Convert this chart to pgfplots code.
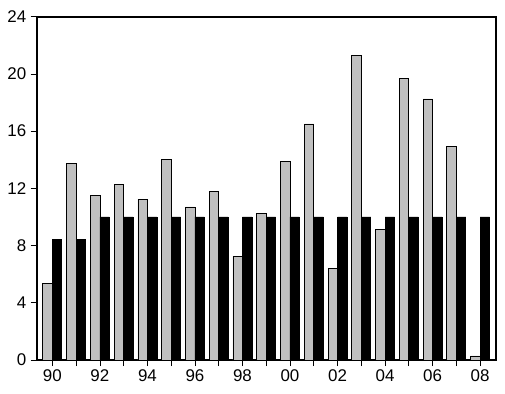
\documentclass[border=0pt]{standalone}
\usepackage{pgfplots}
\pgfplotsset{compat=1.18}
\usepackage{fontspec}
\setmainfont{Liberation Sans}
\definecolor{bargray}{RGB}{192,192,192}
\begin{document}
\begin{tikzpicture}
\begin{axis}[
  name=ax,
  scale only axis,
  width=459.3bp, height=343.3bp,
  xmin=-0.66, xmax=18.67,
  ymin=0, ymax=24,
  ytick={0,4,...,24},
  xtick={0,...,18},
  xticklabels={90,,92,,94,,96,,98,,00,,02,,04,,06,,08},
  tick align=outside,
  xtick pos=bottom, ytick pos=left,
  major tick length=6bp,
  tick style={black, line width=0.8pt},
  axis line style={line width=2bp},
  ticklabel style={font=\fontsize{17}{17}\selectfont},
  /pgf/number format/assume math mode=true,
  yticklabel style={xshift=-1bp},
  ybar=0pt,
  bar width=0.4,
  clip=false,
]
\addplot[fill=bargray, draw=black, line width=0.8pt] coordinates {
(0,5.35) (1,13.75) (2,11.5) (3,12.3) (4,11.25) (5,14.05) (6,10.7) (7,11.8) (8,7.25) (9,10.25)
(10,13.9) (11,16.5) (12,6.4) (13,21.3) (14,9.15) (15,19.7) (16,18.25) (17,14.9) (18,0.28)};
\addplot[fill=black, draw=black, line width=0.8pt] coordinates {
(0,8.4) (1,8.4) (2,10) (3,10) (4,10) (5,10) (6,10) (7,10) (8,10) (9,10)
(10,10) (11,10) (12,10) (13,10) (14,10) (15,10) (16,10) (17,10) (18,10)};
\end{axis}
\path (ax.south west) ++(-36.7bp,-34bp) coordinate (bl);
\path (ax.north east) ++(9bp,16.7bp) coordinate (tr);
\path (bl) (tr);
\end{tikzpicture}
\end{document}
